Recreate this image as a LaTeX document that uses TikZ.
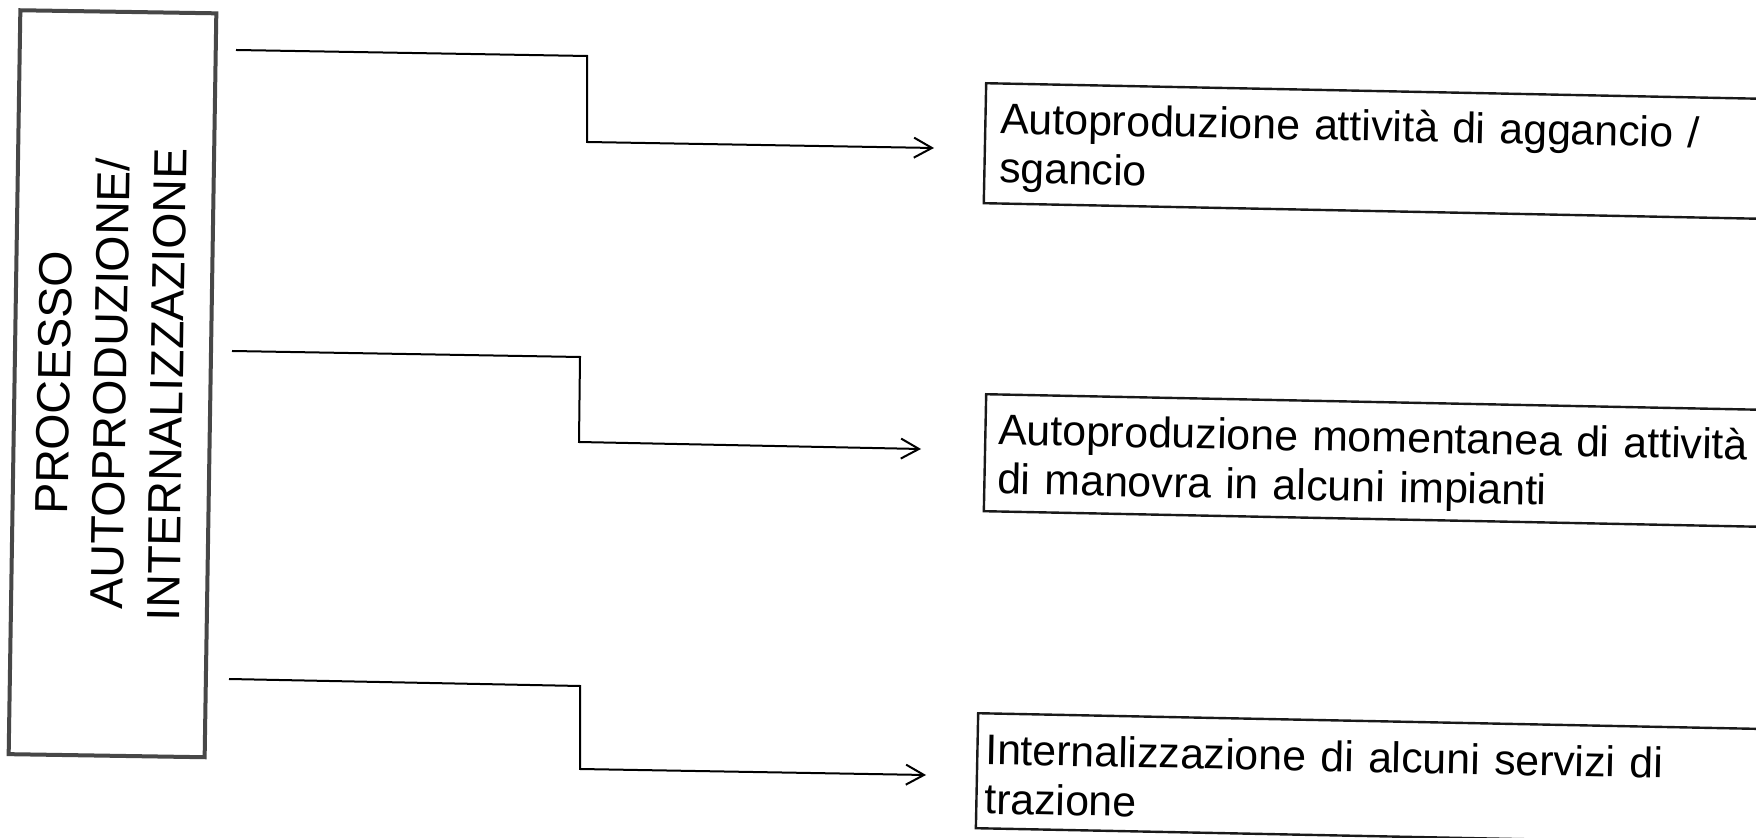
\documentclass[tikz,border=0pt]{standalone}
\usepackage{fontspec}
\setmainfont{Liberation Sans}
\usetikzlibrary{arrows.meta}
\begin{document}
\begin{tikzpicture}[x=0.5pt,y=-0.5pt,
  lbox/.style={draw=black!72, line width=2pt, rectangle, rotate=89.1,
    inner sep=0pt, text width=372pt, align=center,
    text height=27.75pt, text depth=70.25pt,
    font=\fontsize{23.25pt}{28.25pt}\selectfont},
  rbox/.style={draw=black!90, line width=1.2pt, rectangle, anchor=north west,
    rotate=-1.15, inner ysep=0pt, text width=385pt, align=left,
    font=\fontsize{21.4pt}{24.75pt}\selectfont},
  conn/.style={line width=1pt, -{Straight Barb[length=9pt,width=10pt]}}
]
\clip (0,0) rectangle (1756,838);
\fill[white] (0,0) rectangle (1756,838);

% left box
\node[lbox] (proc) at (112.5,383.75) {PROCESSO\\AUTOPRODUZIONE/\\INTERNALIZZAZIONE};

% right boxes
\node[rbox, inner xsep=7.5pt, text height=25pt, text depth=35pt] (b1) at (985,82)
  {Autoproduzione attività di aggancio /\\sgancio};
\node[rbox, inner xsep=6.5pt, text height=25pt, text depth=33.5pt] (b2) at (985,393)
  {Autoproduzione momentanea di attività\\di manovra in alcuni impianti};
\node[rbox, inner xsep=4pt, text height=25.5pt, text depth=32pt] (b3) at (977,712)
  {Internalizzazione di alcuni servizi di\\trazione};

% connectors
\coordinate (s1) at (236,50);  \coordinate (k1) at (587,56);
\coordinate (m1) at (587,142); \coordinate (t1) at (934,148);
\coordinate (s2) at (232,351); \coordinate (k2) at (580,357);
\coordinate (m2) at (579,442); \coordinate (t2) at (921,449);
\coordinate (s3) at (229,679); \coordinate (k3) at (580,686);
\coordinate (m3) at (580,769); \coordinate (t3) at (926,775);

\draw[conn] (s1) -- (k1) -- (m1) -- (t1);
\draw[conn] (s2) -- (k2) -- (m2) -- (t2);
\draw[conn] (s3) -- (k3) -- (m3) -- (t3);
\end{tikzpicture}
\end{document}
